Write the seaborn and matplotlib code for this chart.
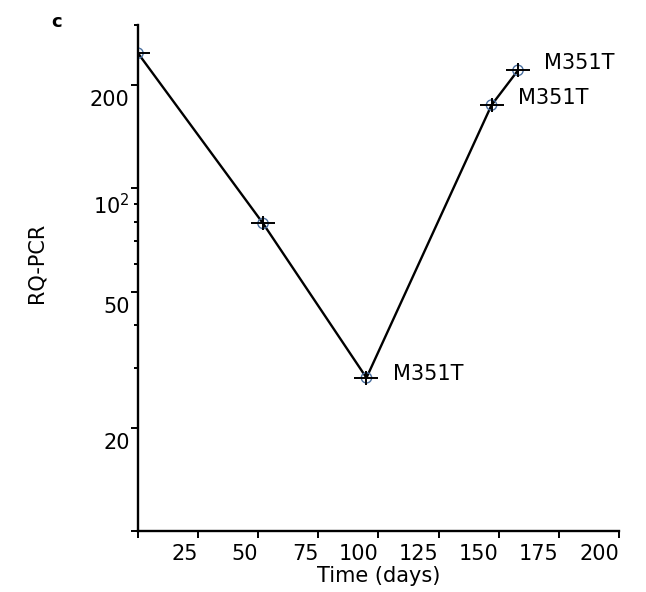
import matplotlib
matplotlib.use("Agg")
import matplotlib.pyplot as plt
import matplotlib.ticker as mticker
import matplotlib.transforms as mtransforms
import seaborn as sns
import pandas as pd

# values
days = [0, 52, 95, 147, 158]
rq_pcr = [248, 79, 28, 175, 221]
point_labels = ["", "", "M351T", "M351T", "M351T"]
label_offsets = [(0, 0), (0, 0), (19, 3), (19, 5), (19, 5)]

x_ticks = [0, 25, 50, 75, 100, 125, 150, 175, 200]
x_tick_labels = [""] + [str(t) for t in x_ticks[1:]]
y_ticks = [10, 20, 50, 100, 200]
y_tick_labels = ["", "20", "50", r"$10^2$", "200"]
y_minor = [30, 40, 60, 70, 80, 90, 300]

df = pd.DataFrame({"Time (days)": days, "RQ-PCR": rq_pcr, "label": point_labels})

sns.set_style("ticks")
plt.rcParams["font.family"] = ["DejaVu Sans"]
plt.rcParams["mathtext.fontset"] = "dejavusans"
plt.rcParams["text.color"] = "black"
plt.rcParams["axes.labelcolor"] = "black"
plt.rcParams["xtick.color"] = "black"
plt.rcParams["ytick.color"] = "black"

fig = plt.figure(figsize=(6.46, 5.92), dpi=100)
ax = fig.add_axes([0.2136, 0.103, 0.7446, 0.855])

sns.lineplot(data=df, x="Time (days)", y="RQ-PCR", color="black", linewidth=1.7, ax=ax)
# cross + small circle markers
sns.scatterplot(data=df, x="Time (days)", y="RQ-PCR", marker="_", s=320, color="black",
                linewidth=1.4, ax=ax, zorder=5)
sns.scatterplot(data=df, x="Time (days)", y="RQ-PCR", marker="|", s=110, color="black",
                linewidth=1.4, ax=ax, zorder=5)
sns.scatterplot(data=df, x="Time (days)", y="RQ-PCR", marker="o", s=55, facecolor="none",
                edgecolor="#4a6f9f", linewidth=1.0, ax=ax, zorder=4)

for xv, yv, lab, off in zip(days, rq_pcr, point_labels, label_offsets):
    if lab:
        ax.annotate(lab, (xv, yv), xytext=off, textcoords="offset points",
                    ha="left", va="center", fontsize=15, color="black")

ax.set_yscale("log")
ax.set_xlim(0, 200)
ax.set_ylim(10, 300)
ax.xaxis.set_major_locator(mticker.FixedLocator(x_ticks))
ax.xaxis.set_major_formatter(mticker.FixedFormatter(x_tick_labels))
ax.xaxis.set_minor_locator(mticker.NullLocator())
ax.yaxis.set_major_locator(mticker.FixedLocator(y_ticks))
ax.yaxis.set_major_formatter(mticker.FixedFormatter(y_tick_labels))
ax.yaxis.set_minor_locator(mticker.FixedLocator(y_minor))
ax.yaxis.set_minor_formatter(mticker.NullFormatter())

ax.tick_params(axis="both", which="major", labelsize=15, width=1.4, length=5, color="black",
               labelcolor="black")
ax.tick_params(axis="y", which="major", pad=1)
ax.tick_params(axis="x", which="major", pad=4)
ax.tick_params(axis="y", which="minor", width=1.4, length=3)
for lab in ax.get_xticklabels():
    lab.set_ha("right")
# y labels hang a little below their ticks in the original
shift = mtransforms.ScaledTranslation(0, -0.05, fig.dpi_scale_trans)
for lab in ax.get_yticklabels():
    lab.set_va("top")
    lab.set_transform(lab.get_transform() + shift)

sns.despine(ax=ax)
for side in ["left", "bottom"]:
    ax.spines[side].set_linewidth(1.7)
    ax.spines[side].set_color("black")

ax.set_xlabel("Time (days)", fontsize=15, labelpad=2)
ax.set_ylabel("RQ-PCR", fontsize=15, labelpad=0)
ax.yaxis.set_label_coords(-0.19, 0.53)

fig.text(0.088, 0.963, "c", fontsize=13, fontweight="bold", ha="center", va="center")

fig.savefig("out.png", dpi=100)
